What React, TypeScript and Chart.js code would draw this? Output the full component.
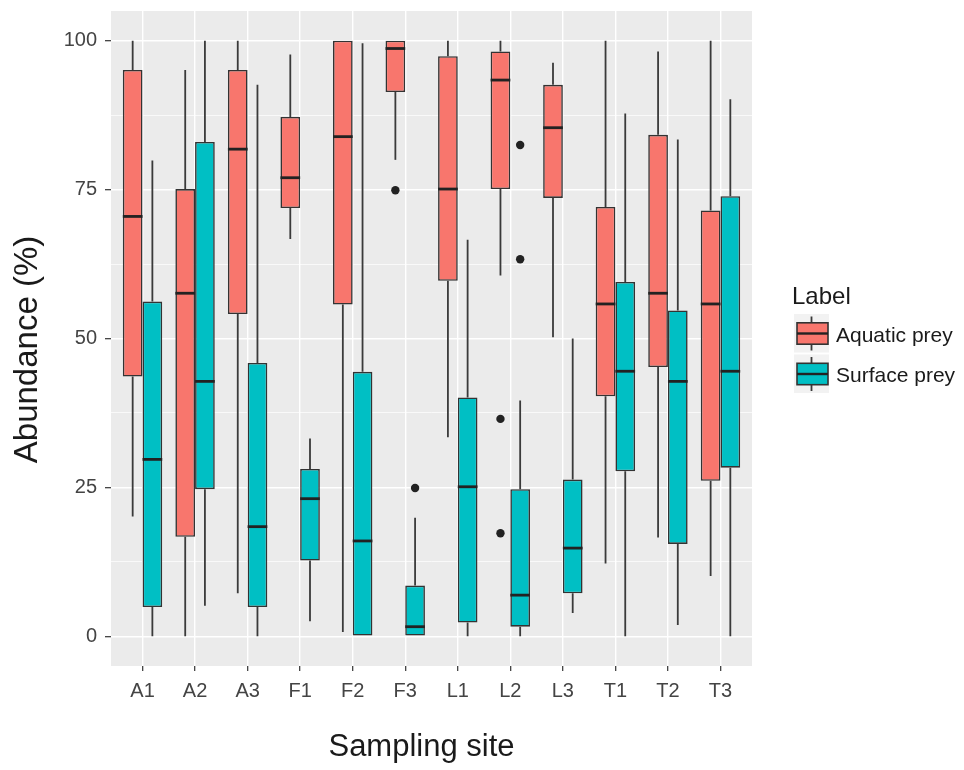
import { useEffect, useRef } from 'react';
import { Chart, registerables } from 'chart.js';

Chart.register(...registerables);

const sites = ['A1', 'A2', 'A3', 'F1', 'F2', 'F3', 'L1', 'L2', 'L3', 'T1', 'T2', 'T3'];
const yTicks = [0, 12.5, 25, 37.5, 50, 62.5, 75, 87.5, 100];

// Aquatic prey
const aquaticLow = [20.1, 0, 7.2, 66.7, 0.7, 80.0, 33.4, 60.6, 50.2, 12.2, 16.6, 10.1];
const aquaticQ1 = [43.6, 16.7, 54.1, 71.9, 55.7, 91.4, 59.7, 75.1, 73.6, 40.3, 45.2, 26.1];
const aquaticMed = [70.5, 57.6, 81.8, 77.0, 83.9, 98.7, 75.1, 93.4, 85.4, 55.8, 57.6, 55.8];
const aquaticQ3 = [95.1, 75.1, 95.1, 87.2, 100, 100, 97.4, 98.2, 92.6, 72.1, 84.2, 71.5];
const aquaticHigh = [100, 95.1, 100, 97.7, 100, 100, 100, 100, 96.3, 100, 98.2, 100];
const aquaticOut: number[][] = [[], [], [], [], [], [74.9], [], [36.5, 17.3], [], [], [], []];

// Surface prey
const surfaceLow = [0, 5.1, 0, 2.5, 0, 0, 0, 0, 3.9, 0, 1.9, 0];
const surfaceQ1 = [4.9, 24.7, 4.9, 12.7, 0, 0, 2.3, 1.6, 7.2, 27.7, 15.5, 28.3];
const surfaceMed = [29.7, 42.8, 18.4, 23.1, 16.0, 1.6, 25.1, 6.9, 14.8, 44.5, 42.8, 44.5];
const surfaceQ3 = [56.2, 83.0, 45.9, 28.1, 44.4, 8.5, 40.1, 24.7, 26.3, 59.5, 54.7, 73.9];
const surfaceHigh = [79.9, 100, 92.6, 33.2, 99.6, 19.9, 66.6, 39.6, 50.0, 87.8, 83.4, 90.2];
const surfaceOut: number[][] = [[], [], [], [], [], [24.9], [], [82.5, 63.3], [], [], [], []];

const seriesLabels = ['Aquatic prey', 'Surface prey'];
const seriesColors = ['#F8766D', '#00BFC4'];

const FONT = "'Liberation Sans', Arial, Helvetica, sans-serif";
const LINE = '#333333';

export default function App() {
  const ref = useRef<HTMLCanvasElement>(null);

  useEffect(() => {
    document.body.style.margin = '0';
    const series = [
      { low: aquaticLow, q1: aquaticQ1, med: aquaticMed, q3: aquaticQ3, high: aquaticHigh, out: aquaticOut },
      { low: surfaceLow, q1: surfaceQ1, med: surfaceMed, q3: surfaceQ3, high: surfaceHigh, out: surfaceOut },
    ];

    const boxPlugin = {
      id: 'boxParts',
      beforeDraw(chart: any) {
        const { ctx, chartArea: a } = chart;
        ctx.save();
        ctx.fillStyle = '#EBEBEB';
        ctx.fillRect(a.left, a.top, a.right - a.left, a.bottom - a.top);
        ctx.restore();
      },
      beforeDatasetsDraw(chart: any) {
        const { ctx } = chart;
        const ys = chart.scales.y;
        ctx.save();
        ctx.strokeStyle = '#3a3a3a';
        ctx.lineWidth = 1.8;
        series.forEach((s, d) => {
          const meta = chart.getDatasetMeta(d);
          meta.data.forEach((el: any, i: number) => {
            ctx.beginPath();
            ctx.moveTo(el.x, ys.getPixelForValue(s.high[i]));
            ctx.lineTo(el.x, ys.getPixelForValue(s.q3[i]));
            ctx.moveTo(el.x, ys.getPixelForValue(s.q1[i]));
            ctx.lineTo(el.x, ys.getPixelForValue(s.low[i]));
            ctx.stroke();
          });
        });
        ctx.restore();
      },
      afterDatasetsDraw(chart: any) {
        const { ctx } = chart;
        const ys = chart.scales.y;
        ctx.save();
        series.forEach((s, d) => {
          const meta = chart.getDatasetMeta(d);
          meta.data.forEach((el: any, i: number) => {
            const y = ys.getPixelForValue(s.med[i]);
            ctx.strokeStyle = '#222222';
            ctx.lineWidth = 2.8;
            ctx.beginPath();
            ctx.moveTo(el.x - el.width / 2, y);
            ctx.lineTo(el.x + el.width / 2, y);
            ctx.stroke();
            ctx.fillStyle = '#222222';
            s.out[i].forEach((v) => {
              ctx.beginPath();
              ctx.arc(el.x, ys.getPixelForValue(v), 4.2, 0, Math.PI * 2);
              ctx.fill();
            });
          });
        });
        ctx.restore();
      },
      afterDraw(chart: any) {
        const { ctx } = chart;
        ctx.save();
        ctx.fillStyle = '#1a1a1a';
        ctx.textAlign = 'center';
        ctx.textBaseline = 'middle';
        ctx.font = `31px ${FONT}`;
        ctx.fillText('Sampling site', 421.5, 747);
        ctx.save();
        ctx.translate(28, 349.5);
        ctx.rotate(-Math.PI / 2);
        ctx.font = `33px ${FONT}`;
        ctx.fillText('Abundance (%)', 0, 0);
        ctx.restore();

        // legend
        ctx.textAlign = 'left';
        ctx.font = `24px ${FONT}`;
        ctx.fillText('Label', 792, 297);
        seriesLabels.forEach((lab, k) => {
          const cy = 333.5 + k * 40.5;
          ctx.fillStyle = '#F2F2F2';
          ctx.fillRect(794, cy - 19.5, 35, 38.5);
          ctx.strokeStyle = '#3a3a3a';
          ctx.lineWidth = 1.8;
          ctx.beginPath();
          ctx.moveTo(811.5, cy - 17);
          ctx.lineTo(811.5, cy + 17);
          ctx.stroke();
          ctx.fillStyle = seriesColors[k];
          ctx.fillRect(797, cy - 10.7, 31, 21.4);
          ctx.strokeStyle = LINE;
          ctx.lineWidth = 1.6;
          ctx.strokeRect(797, cy - 10.7, 31, 21.4);
          ctx.strokeStyle = '#222222';
          ctx.lineWidth = 2.4;
          ctx.beginPath();
          ctx.moveTo(797, cy);
          ctx.lineTo(828, cy);
          ctx.stroke();
          ctx.fillStyle = '#1a1a1a';
          ctx.font = `21px ${FONT}`;
          ctx.fillText(lab, 836, cy + 2.5);
        });
        ctx.restore();
      },
    };

    const datasets = series.map((s, d) => ({
      label: seriesLabels[d],
      data: sites.map((_, i) => ({ x: i + 1, y: [s.q1[i], s.q3[i]] })),
      backgroundColor: seriesColors[d],
      borderColor: LINE,
      borderWidth: 1.6,
      borderSkipped: false as const,
      categoryPercentage: 0.75,
      barPercentage: 1,
    }));

    const chart = new Chart(ref.current as HTMLCanvasElement, {
      type: 'bar',
      data: { datasets: datasets as any },
      options: {
        responsive: false,
        animation: false,
        events: [],
        layout: { padding: { top: 11, right: 212, left: 0, bottom: 0 } },
        plugins: { legend: { display: false }, tooltip: { enabled: false } },
        scales: {
          x: {
            type: 'linear',
            min: 0.4,
            max: 12.6,
            offset: false,
            afterBuildTicks: (s: any) => {
              s.ticks = sites.map((_, i) => ({ value: i + 1 }));
            },
            afterFit: (s: any) => {
              s.height = 104;
              s.paddingLeft = 0;
              s.paddingRight = 0;
            },
            ticks: {
              callback: (v: any) => sites[Math.round(Number(v)) - 1] ?? '',
              font: { size: 20, family: FONT },
              color: '#444444',
              padding: 8,
              maxRotation: 0,
              autoSkip: false,
            },
            grid: { offset: false, color: '#FFFFFF', lineWidth: 1.4, tickColor: LINE, tickLength: 5, tickWidth: 1.2 },
            border: { display: false },
          },
          y: {
            type: 'linear',
            min: -5,
            max: 105,
            afterBuildTicks: (s: any) => {
              s.ticks = yTicks.map((v) => ({ value: v }));
            },
            afterFit: (s: any) => {
              s.width = 111;
              s.paddingTop = 0;
              s.paddingBottom = 0;
            },
            ticks: {
              callback: (v: any) => (Number(v) % 25 === 0 ? String(v) : ''),
              font: { size: 20, family: FONT },
              color: '#444444',
              padding: 8,
            },
            grid: {
              color: '#FFFFFF',
              lineWidth: (c: any) => (c.tick && c.tick.value % 25 === 0 ? 1.4 : 0.7),
              tickColor: (c: any) => (c.tick && c.tick.value % 25 === 0 ? LINE : 'rgba(0,0,0,0)'),
              tickLength: 6,
              tickWidth: 1.2,
            },
            border: { display: false },
          },
        },
      },
      plugins: [boxPlugin],
    });
    return () => chart.destroy();
  }, []);

  return <canvas ref={ref} width={964} height={770} style={{ display: 'block' }} />;
}
